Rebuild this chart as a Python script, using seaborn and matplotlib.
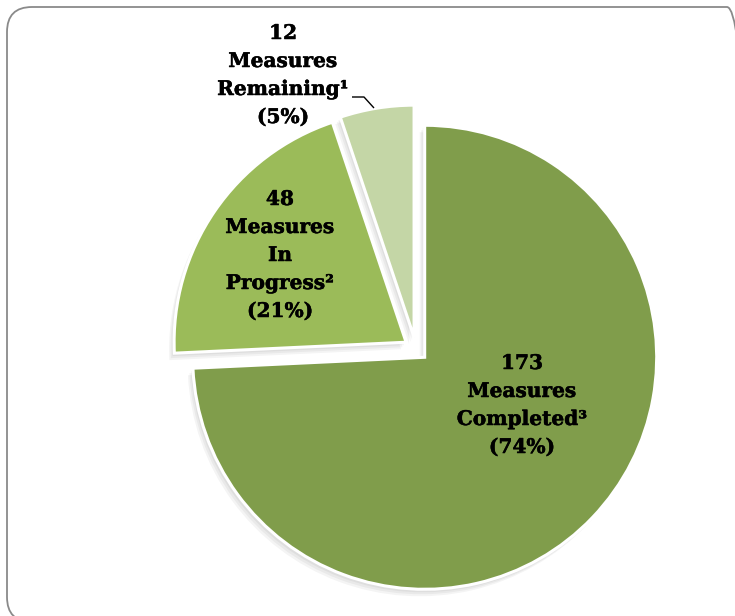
import matplotlib
matplotlib.use("Agg")
import matplotlib.pyplot as plt
import matplotlib.patheffects as pe
import seaborn as sns
from matplotlib.patches import FancyBboxPatch

# ---- data ----
categories = ["Completed", "In Progress", "Remaining"]
counts = [173, 48, 12]
percents = [74, 21, 5]
superscripts = ["³", "²", "¹"]
label_words = [["Measures", "Completed"], ["Measures", "In", "Progress"], ["Measures", "Remaining"]]
colors = ["#809D4B", "#9BBB59", "#C4D6A6"]

sns.set_theme(style="white")
plt.rcParams['font.family'] = ['DejaVu Serif', 'DejaVu Sans']

W, H = 735, 616
fig = plt.figure(figsize=(W / 100, H / 100), dpi=100)
ax = fig.add_axes([0, 0, 1, 1])

cx, cy = 416, H - 349
R = 232
explode = [12, 12, 12]  # absolute offset in data units (pixels here)

# soft shadow pie (a few faint layers)
for k, (dx, dy) in enumerate([(-5, -7), (-3.5, -5), (-2, -3)]):
    ax.pie(counts, startangle=90, counterclock=False, explode=explode,
           radius=R, center=(cx + dx, cy + dy), colors=["#000000"] * 3,
           wedgeprops=dict(linewidth=0, alpha=0.045), frame=True)
wedges, _ = ax.pie(counts, startangle=90, counterclock=False, explode=explode,
                   radius=R, center=(cx, cy), colors=colors,
                   wedgeprops=dict(edgecolor="white", linewidth=2.2), frame=True)

def make_label(i):
    words = label_words[i][:]
    words[-1] = words[-1] + superscripts[i]
    return "\n".join([str(counts[i])] + words + [f"({percents[i]}%)"])

label_pos = [(522, H - 405), (280, H - 255), (283, H - 75)]
for i, (x, y) in enumerate(label_pos):
    ax.text(x, y, make_label(i), ha="center", va="center", fontsize=14.5,
            fontweight="bold", color="black", linespacing=1.5,
            path_effects=[pe.withStroke(linewidth=0.35, foreground="black")])

# leader line for the small slice
ax.plot([352, 364, 374], [H - 97, H - 97, H - 108], color="black", lw=1.0,
        solid_capstyle="butt")

# rounded border
border = FancyBboxPatch((7, H - 622), 745, 615,
                        boxstyle="round,pad=0,rounding_size=25",
                        facecolor="none", edgecolor="#8a8a8a", linewidth=1.3,
                        clip_on=False)
ax.add_patch(border)

ax.set_xlim(0, W)
ax.set_ylim(0, H)
ax.set_aspect("equal", adjustable="box")
ax.axis("off")

fig.savefig("out.png", dpi=100, facecolor="white")
